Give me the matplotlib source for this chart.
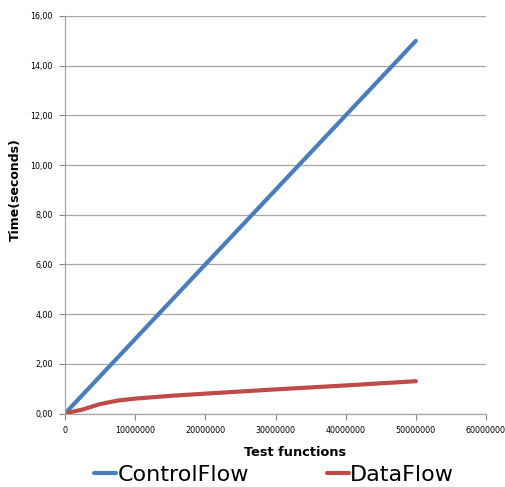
import numpy as np
import matplotlib.pyplot as plt
from matplotlib.ticker import FuncFormatter, MultipleLocator

# Data
x_control = [0, 50000000]
t_control = [0.0, 15.0]

x_data = [0, 2500000, 5000000, 7500000, 10000000, 15000000, 20000000,
          30000000, 40000000, 50000000]
t_data = [0.0, 0.16, 0.38, 0.52, 0.60, 0.71, 0.80, 0.97, 1.13, 1.30]

blue = '#4A7EBB'
red = '#BE4B48'

plt.rcParams['font.family'] = ['DejaVu Sans']

fig = plt.figure(figsize=(5.05, 4.87), dpi=100)
ax = fig.add_axes([65 / 505, 73.5 / 487, 421 / 505, 397.5 / 487])

ax.plot(x_control, t_control, color=blue, lw=3, solid_capstyle='round', label='ControlFlow')
ax.plot(x_data, t_data, color=red, lw=3, solid_capstyle='round', label='DataFlow')

ax.set_xlim(0, 60000000)
ax.set_ylim(0, 16)
ax.xaxis.set_major_locator(MultipleLocator(10000000))
ax.yaxis.set_major_locator(MultipleLocator(2))
ax.xaxis.set_major_formatter(FuncFormatter(lambda v, p: '%d' % v))
ax.yaxis.set_major_formatter(FuncFormatter(lambda v, p: ('%.2f' % v).replace('.', ',')))
ax.tick_params(labelsize=5.8, colors='#888888', length=4, width=0.8, pad=5)
for lab in ax.get_xticklabels() + ax.get_yticklabels():
    lab.set_color('black')

ax.grid(axis='y', color='#A6A6A6', lw=0.9)
ax.set_axisbelow(True)
for s in ['top', 'right']:
    ax.spines[s].set_visible(False)
for s in ['left', 'bottom']:
    ax.spines[s].set_color('#A6A6A6')
    ax.spines[s].set_linewidth(0.9)

ax.set_xlabel('Test functions', fontsize=9.3, fontweight='bold')
ax.xaxis.set_label_coords((295 - 65) / 421, -(452 - 413.5) / 397.5)
ax.xaxis.label.set_va('center')
ax.set_ylabel('Time(seconds)', fontsize=9, fontweight='bold')
ax.yaxis.set_label_coords(-(65 - 15) / 421, (413.5 - 190) / 397.5)
ax.yaxis.label.set_va('center')

fig.legend(loc='center', bbox_to_anchor=(274 / 505, 1 - 475 / 487), ncol=2, frameon=False,
           fontsize=16, handlelength=1.0, handletextpad=0.05, columnspacing=3.5,
           borderpad=0, borderaxespad=0)

plt.savefig('out.png', dpi=100)
